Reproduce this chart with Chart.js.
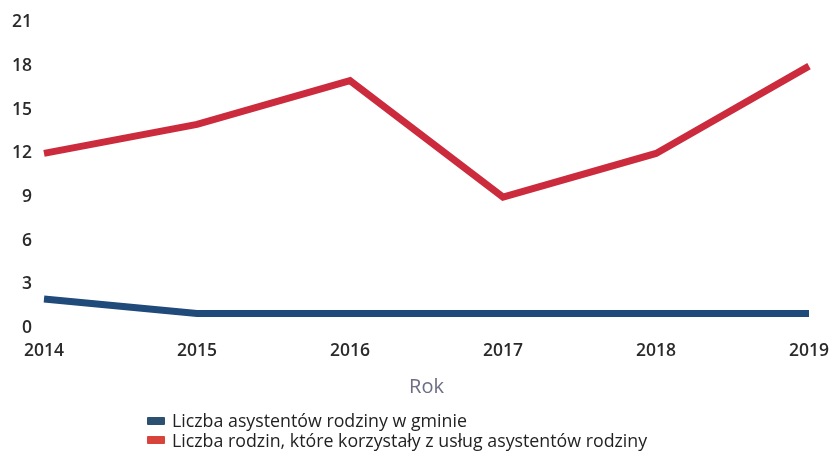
<!DOCTYPE html>
<html>
<head>
<meta charset="utf-8">
<script src="https://cdn.jsdelivr.net/npm/chart.js@4.4.1/dist/chart.umd.min.js"></script>
<style>
  html, body { margin: 0; padding: 0; background: #fff; }
  #wrap { position: relative; width: 833px; height: 456px; }
  #legend { position: absolute; left: 147px; top: 411px; font-family: "Open Sans", sans-serif; font-size: 17.8px; color: #222; line-height: 19.5px; }
  #legend .item { display: flex; align-items: center; white-space: nowrap; }
  #legend .box { display: inline-block; width: 18px; height: 8px; margin-right: 7px; border-radius: 1px; }
</style>
</head>
<body>
<div id="wrap">
  <canvas id="c" width="833" height="456"></canvas>
  <div id="legend"></div>
</div>
<script>
const years = ['2014', '2015', '2016', '2017', '2018', '2019'];
const assistants = [2, 1, 1, 1, 1, 1];
const families = [12, 14, 17, 9, 12, 18];
const seriesNames = [
  'Liczba asystentów rodziny w gminie',
  'Liczba rodzin, które korzystały z usług asystentów rodziny'
];
const seriesColors = ['#1f4a7a', '#cc2b3d'];
const legendColors = ['#2c5070', '#d8433c'];
const axisTitle = 'Rok';

const chart = new Chart(document.getElementById('c'), {
  type: 'line',
  data: {
    labels: years,
    datasets: [
      { label: seriesNames[0], data: assistants, borderColor: seriesColors[0], backgroundColor: seriesColors[0] },
      { label: seriesNames[1], data: families, borderColor: seriesColors[1], backgroundColor: seriesColors[1] }
    ]
  },
  options: {
    responsive: false,
    animation: false,
    layout: { padding: { top: 14, right: 24, bottom: 57, left: 0 } },
    elements: {
      line: { borderWidth: 7, tension: 0, borderCapStyle: 'butt', borderJoinStyle: 'miter' },
      point: { radius: 0, hoverRadius: 0 }
    },
    plugins: { legend: { display: false }, tooltip: { enabled: false } },
    scales: {
      x: {
        offset: false,
        grid: { display: false, drawTicks: false },
        border: { display: false },
        ticks: { color: '#2a2a2a', padding: 13, maxRotation: 0, font: { family: 'Open Sans', size: 17.5, weight: '600' } },
        title: { display: true, text: axisTitle, color: '#6d6d86', padding: { top: 0, bottom: 0 }, font: { family: 'Open Sans', size: 20 } },
        // let the last year label overhang the plot edge
        afterFit: s => { s.paddingRight = 0; s.paddingLeft = 0; }
      },
      y: {
        min: 0, max: 21,
        grid: { display: false, drawTicks: false },
        border: { display: false },
        ticks: { stepSize: 3, color: '#2a2a2a', padding: 12, font: { family: 'Open Sans', size: 17.5, weight: '600' } },
        afterFit: s => { s.width = 44; }
      }
    }
  }
});

const legend = document.getElementById('legend');
chart.data.datasets.forEach((ds, i) => {
  const row = document.createElement('div');
  row.className = 'item';
  const box = document.createElement('span');
  box.className = 'box';
  box.style.background = legendColors[i];
  row.appendChild(box);
  row.appendChild(document.createTextNode(ds.label));
  legend.appendChild(row);
});
</script>
</body>
</html>
